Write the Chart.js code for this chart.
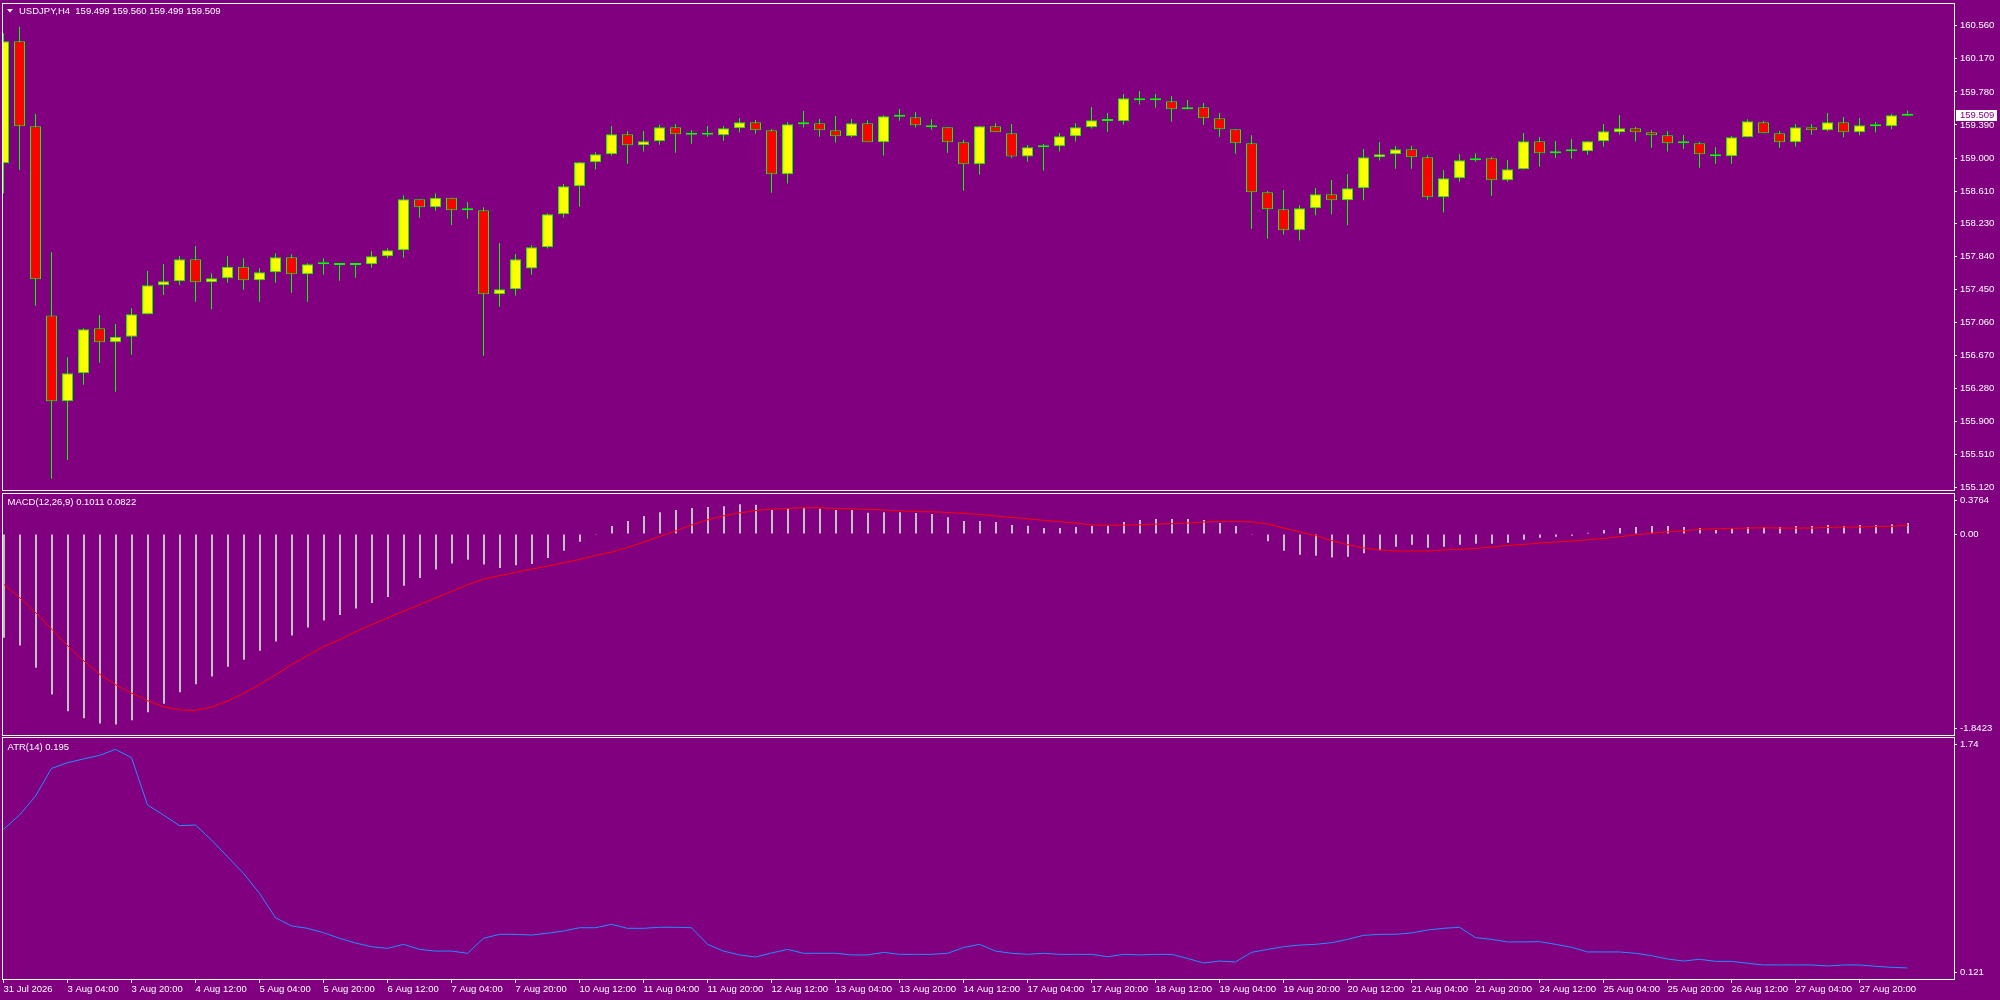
<!DOCTYPE html>
<html>
<head>
<meta charset="utf-8">
<title>USDJPY,H4</title>
<script src="https://cdn.jsdelivr.net/npm/chart.js@4.4.1/dist/chart.umd.min.js"></script>
<style>
  html, body { margin: 0; padding: 0; background: #800080; }
  body { width: 2000px; height: 1000px; position: relative; overflow: hidden; }
  canvas { position: absolute; left: 0; top: 0; }
</style>
</head>
<body>
<canvas id="price" width="2000" height="1000"></canvas>
<canvas id="macd" width="2000" height="1000"></canvas>
<canvas id="atr" width="2000" height="1000"></canvas>
<script>
const symbol = 'USDJPY,H4';

const opens = [
  158.938,160.376,159.374,157.146,156.133,156.463,156.994,156.828,156.895,157.158,
  157.500,157.547,157.807,157.535,157.583,157.720,157.559,157.653,157.830,157.630,
  157.748,157.752,157.740,157.748,157.842,157.913,158.514,158.419,158.533,158.384,
  158.384,157.394,157.453,157.697,157.948,158.337,158.667,158.950,159.044,159.280,
  159.150,159.197,159.362,159.280,159.276,159.268,159.351,159.421,159.327,158.809,
  159.398,159.410,159.327,159.256,159.410,159.186,159.492,159.480,159.386,159.362,
  159.186,158.926,159.374,159.292,159.017,159.127,159.139,159.256,159.362,159.445,
  159.433,159.681,159.685,159.669,159.575,159.598,159.469,159.339,159.174,158.596,
  158.396,158.149,158.408,158.573,158.502,158.644,159.009,159.044,159.103,159.009,
  158.537,158.761,158.974,158.997,158.738,158.867,159.197,159.056,159.080,159.080,
  159.197,159.303,159.351,159.303,159.268,159.174,159.174,159.044,159.021,159.245,
  159.421,159.292,159.186,159.362,159.327,159.421,159.303,159.386,159.374,159.499
];
const highs = [
  160.470,160.549,159.519,157.889,156.652,156.994,157.151,157.044,157.229,157.669,
  157.752,157.846,157.964,157.642,157.846,157.818,157.700,157.877,157.865,157.760,
  157.818,157.760,157.760,157.901,157.936,158.561,158.514,158.584,158.533,158.482,
  158.419,157.999,157.870,157.972,158.349,158.695,158.950,159.068,159.378,159.319,
  159.319,159.390,159.402,159.331,159.378,159.378,159.472,159.449,159.343,159.425,
  159.555,159.461,159.496,159.461,159.445,159.504,159.579,159.543,159.457,159.362,
  159.213,159.374,159.413,159.402,159.154,159.166,159.296,159.413,159.602,159.531,
  159.755,159.791,159.755,159.732,159.685,159.649,159.531,159.339,159.268,158.612,
  158.624,158.443,158.647,158.742,158.812,159.107,159.190,159.143,159.143,159.032,
  158.860,159.048,159.056,159.013,158.977,159.296,159.249,159.201,159.225,159.197,
  159.402,159.508,159.366,159.327,159.319,159.272,159.190,159.127,159.260,159.457,
  159.437,159.319,159.402,159.402,159.531,159.484,159.472,159.425,159.520,159.560
];
const lows = [
  158.585,158.859,157.260,155.221,155.442,156.329,156.589,156.247,156.683,157.158,
  157.386,157.504,157.308,157.217,157.531,157.449,157.308,157.531,157.414,157.308,
  157.627,157.555,157.590,157.708,157.818,157.826,158.297,158.380,158.211,158.286,
  156.671,157.249,157.379,157.626,157.933,158.298,158.427,158.864,159.029,158.934,
  159.076,159.158,159.064,159.170,159.252,159.205,159.300,159.288,158.592,158.699,
  159.359,159.252,159.182,159.245,159.186,159.029,159.441,159.359,159.335,159.064,
  158.616,158.805,159.303,159.005,158.958,158.852,159.076,159.194,159.347,159.311,
  159.394,159.630,159.594,159.429,159.575,159.394,159.252,159.052,158.168,158.050,
  158.098,158.027,158.325,158.337,158.208,158.502,158.970,158.875,158.875,158.510,
  158.357,158.722,158.958,158.557,158.722,158.867,158.899,159.005,158.993,159.040,
  159.135,159.276,159.194,159.123,159.076,159.111,158.887,158.934,158.934,159.245,
  159.292,159.123,159.135,159.276,159.315,159.245,159.268,159.300,159.339,159.499
];
const closes = [
  160.376,159.374,157.571,156.133,156.463,156.982,156.828,156.895,157.158,157.500,
  157.547,157.807,157.535,157.583,157.720,157.559,157.653,157.830,157.630,157.748,
  157.752,157.740,157.748,157.842,157.913,158.514,158.419,158.533,158.384,158.384,
  157.394,157.453,157.807,157.948,158.337,158.667,158.950,159.044,159.280,159.150,
  159.197,159.362,159.280,159.276,159.280,159.351,159.421,159.327,158.809,159.398,
  159.406,159.327,159.256,159.410,159.186,159.492,159.488,159.386,159.362,159.186,
  158.926,159.374,159.303,159.017,159.127,159.131,159.256,159.362,159.445,159.437,
  159.704,159.704,159.681,159.575,159.598,159.469,159.339,159.174,158.596,158.396,
  158.149,158.408,158.573,158.502,158.644,159.009,159.044,159.103,159.009,158.537,
  158.761,158.974,158.982,158.738,158.867,159.197,159.056,159.080,159.088,159.197,
  159.315,159.351,159.303,159.268,159.174,159.174,159.044,159.021,159.245,159.433,
  159.292,159.186,159.362,159.327,159.421,159.303,159.386,159.374,159.504,159.509
];

const macdMain = [
  -0.951,-1.021,-1.226,-1.470,-1.625,-1.689,-1.738,-1.747,-1.707,-1.634,
  -1.555,-1.451,-1.378,-1.305,-1.216,-1.152,-1.070,-0.985,-0.930,-0.857,
  -0.793,-0.741,-0.683,-0.631,-0.576,-0.473,-0.402,-0.326,-0.271,-0.235,
  -0.280,-0.311,-0.287,-0.274,-0.220,-0.152,-0.070,-0.006,0.073,0.119,
  0.165,0.201,0.220,0.238,0.247,0.256,0.274,0.268,0.220,0.232,
  0.241,0.232,0.220,0.220,0.195,0.201,0.201,0.192,0.183,0.155,
  0.119,0.119,0.110,0.082,0.076,0.055,0.055,0.064,0.076,0.076,
  0.110,0.128,0.137,0.137,0.137,0.128,0.101,0.073,-0.006,-0.067,
  -0.152,-0.189,-0.198,-0.216,-0.207,-0.177,-0.149,-0.116,-0.098,-0.125,
  -0.116,-0.098,-0.088,-0.088,-0.079,-0.052,-0.034,-0.024,-0.015,0.012,
  0.037,0.055,0.064,0.073,0.073,0.064,0.055,0.037,0.055,0.064,
  0.064,0.064,0.073,0.073,0.082,0.073,0.082,0.082,0.091,0.1011
];
const macdSignal = [
  -0.463,-0.585,-0.723,-0.875,-1.027,-1.165,-1.287,-1.384,-1.460,-1.530,
  -1.585,-1.613,-1.616,-1.585,-1.530,-1.460,-1.378,-1.287,-1.195,-1.110,
  -1.030,-0.966,-0.896,-0.829,-0.768,-0.707,-0.646,-0.585,-0.524,-0.463,
  -0.412,-0.381,-0.351,-0.320,-0.293,-0.262,-0.232,-0.195,-0.165,-0.122,
  -0.073,-0.021,0.030,0.085,0.131,0.168,0.195,0.216,0.229,0.235,
  0.241,0.241,0.235,0.232,0.226,0.220,0.213,0.207,0.204,0.198,
  0.189,0.180,0.165,0.152,0.140,0.125,0.113,0.101,0.082,0.082,
  0.082,0.085,0.091,0.095,0.101,0.110,0.116,0.116,0.110,0.091,
  0.055,0.018,-0.015,-0.061,-0.098,-0.128,-0.146,-0.155,-0.155,-0.155,
  -0.146,-0.140,-0.131,-0.119,-0.104,-0.095,-0.082,-0.073,-0.064,-0.052,
  -0.040,-0.024,-0.006,0.009,0.021,0.030,0.043,0.049,0.052,0.055,
  0.058,0.055,0.055,0.055,0.061,0.064,0.064,0.070,0.070,0.0822
];
const atrValues = [
  1.122,1.218,1.345,1.530,1.568,1.593,1.617,1.657,1.602,1.285,
  1.218,1.147,1.151,1.051,0.939,0.828,0.694,0.531,0.476,0.460,
  0.431,0.393,0.362,0.337,0.326,0.353,0.319,0.308,0.308,0.293,
  0.393,0.420,0.420,0.415,0.427,0.442,0.464,0.464,0.487,0.460,
  0.460,0.467,0.467,0.464,0.353,0.308,0.282,0.268,0.295,0.319,
  0.293,0.293,0.293,0.282,0.282,0.299,0.286,0.286,0.286,0.293,
  0.331,0.353,0.308,0.293,0.286,0.293,0.286,0.286,0.286,0.270,
  0.286,0.282,0.286,0.286,0.259,0.228,0.241,0.235,0.299,0.319,
  0.337,0.348,0.353,0.364,0.386,0.413,0.420,0.420,0.429,0.449,
  0.460,0.467,0.398,0.386,0.369,0.369,0.371,0.353,0.333,0.302,
  0.302,0.302,0.293,0.277,0.255,0.241,0.253,0.239,0.239,0.226,
  0.215,0.215,0.215,0.215,0.208,0.215,0.215,0.206,0.199,0.195
];

const priceTicks = [160.560,160.170,159.780,159.390,159.000,158.610,158.230,157.840,157.450,157.060,156.670,156.280,155.900,155.510,155.120];
const macdTickLabels = ['0.3764', '0.00', '-1.8423'];
const atrTickLabels = ['1.74', '0.121'];
const timeLabels = [
  '31 Jul 2026','3 Aug 04:00','3 Aug 20:00','4 Aug 12:00','5 Aug 04:00','5 Aug 20:00',
  '6 Aug 12:00','7 Aug 04:00','7 Aug 20:00','10 Aug 12:00','11 Aug 04:00','11 Aug 20:00',
  '12 Aug 12:00','13 Aug 04:00','13 Aug 20:00','14 Aug 12:00','17 Aug 04:00','17 Aug 20:00',
  '18 Aug 12:00','19 Aug 04:00','19 Aug 20:00','20 Aug 12:00','21 Aug 04:00','21 Aug 20:00',
  '24 Aug 12:00','25 Aug 04:00','25 Aug 20:00','26 Aug 12:00','27 Aug 04:00','27 Aug 20:00'
];

const BG = '#800080';
const FONT = { family: '"Liberation Sans", Arial, sans-serif', size: 9.5 };
const FONT_CSS = '9.5px "Liberation Sans", Arial, sans-serif';
const BAR_STEP = 16;      // px per candle
const AREA_W = 1952;      // plot width between the frame lines
const idx = closes.map((c, i) => i);

// white frame round each panel + its caption
const frame = {
  id: 'frame',
  afterDraw(chart, args, opts) {
    const { ctx, chartArea: a } = chart;
    ctx.save();
    ctx.strokeStyle = '#ffffff';
    ctx.lineWidth = 1;
    ctx.strokeRect(a.left + 0.5, a.top + 0.5, a.right - a.left, a.bottom - a.top);
    ctx.fillStyle = '#ffffff';
    if (opts.arrow) {
      ctx.beginPath();
      ctx.moveTo(7, 9); ctx.lineTo(13, 9); ctx.lineTo(10, 12.5);
      ctx.closePath(); ctx.fill();
    }
    ctx.font = FONT_CSS;
    ctx.textBaseline = 'middle';
    ctx.fillText(opts.text, opts.x, opts.y);
    ctx.restore();
  }
};

// white box with the last close on the price axis
const lastPrice = {
  id: 'lastPrice',
  afterDraw(chart) {
    const ctx = chart.ctx;
    const last = closes[closes.length - 1];
    const y = Math.round(chart.scales.y.getPixelForValue(last));
    ctx.save();
    ctx.fillStyle = '#ffffff';
    ctx.fillRect(chart.chartArea.right + 2, y - 5, 41, 11);
    ctx.fillStyle = BG;
    ctx.font = FONT_CSS;
    ctx.textBaseline = 'middle';
    ctx.fillText(last.toFixed(3), chart.chartArea.right + 6, y + 0.5);
    ctx.restore();
  }
};

function xAxis(show, firstPx) {
  const min = -firstPx / BAR_STEP;
  return {
    type: 'linear',
    display: show,
    offset: false,
    min: min,
    max: min + AREA_W / BAR_STEP,
    afterBuildTicks: s => { s.ticks = timeLabels.map((t, k) => ({ value: k * 4 })); },
    afterFit: s => { s.height = show ? 21 : 0; s.paddingLeft = 0; s.paddingRight = 0; },
    grid: { offset: false, drawOnChartArea: false, drawTicks: true, tickLength: 4, color: '#ffffff' },
    border: { display: false },
    ticks: {
      autoSkip: false, maxRotation: 0, minRotation: 0, align: 'start', padding: 1,
      color: '#ffffff', font: FONT,
      callback: (v, i) => timeLabels[i]
    }
  };
}

function yAxis(min, max, tickValues, labelOf) {
  return {
    position: 'right',
    min: min,
    max: max,
    afterBuildTicks: s => { s.ticks = tickValues.map(v => ({ value: v })); },
    afterFit: s => { s.width = 2000 - 2 - AREA_W; s.paddingTop = 0; s.paddingBottom = 0; },
    grid: { drawOnChartArea: false, drawTicks: true, tickLength: 3, color: '#ffffff' },
    border: { display: false },
    ticks: { padding: 3, color: '#ffffff', font: FONT, callback: labelOf }
  };
}

function baseOptions(padding) {
  return {
    responsive: false,
    animation: false,
    events: [],
    layout: { padding: padding },
    plugins: { legend: { display: false }, tooltip: { enabled: false } }
  };
}

// ---- price panel ----
function drawPrice() {
  const options = baseOptions({ left: 2, top: 3, right: 0, bottom: 510 });
  options.scales = {
    x: xAxis(false, 1.5),
    y: yAxis(155.088, 160.8275, priceTicks, v => v.toFixed(3))
  };
  const n = closes.length - 1;
  options.plugins.frame = {
    arrow: true, x: 19, y: 11,
    text: `${symbol}  ${opens[n].toFixed(3)} ${highs[n].toFixed(3)} ${lows[n].toFixed(3)} ${closes[n].toFixed(3)}`
  };

  new Chart(document.getElementById('price'), {
    type: 'bar',
    data: {
      datasets: [
        {
          label: 'wick',
          data: idx.map(i => ({ x: i, y: [lows[i], highs[i]] })),
          backgroundColor: '#00ff00',
          borderWidth: 0,
          barThickness: 1, maxBarThickness: 1,
          inflateAmount: 0, grouped: false, order: 2
        },
        {
          label: 'body',
          data: idx.map(i => ({ x: i, y: [opens[i], closes[i]] })),
          backgroundColor: idx.map(i => closes[i] >= opens[i] ? '#ffff00' : '#ff0000'),
          borderColor: '#00ff00',
          borderWidth: 1,
          borderSkipped: false,
          barThickness: 11, maxBarThickness: 11,
          minBarLength: 2,
          inflateAmount: 0, grouped: false, order: 1
        }
      ]
    },
    options: options,
    plugins: [frame, lastPrice]
  });
}

// ---- MACD panel ----
function drawMacd() {
  const top = 493, bottom = 735;
  const min = -1.8423, max = 0.3764;
  const nudge = 7 * (max - min) / (bottom - top);
  const options = baseOptions({ left: 2, top: top, right: 0, bottom: 1000 - bottom });
  options.scales = {
    x: xAxis(false, 2),
    y: yAxis(min, max, [max - nudge, 0, min + nudge], (v, i) => macdTickLabels[i])
  };
  options.plugins.frame = {
    x: 7.5, y: 502,
    text: `MACD(12,26,9) ${macdMain[macdMain.length - 1].toFixed(4)} ${macdSignal[macdSignal.length - 1].toFixed(4)}`
  };

  new Chart(document.getElementById('macd'), {
    type: 'bar',
    data: {
      datasets: [
        {
          label: 'MACD',
          data: idx.map(i => ({ x: i, y: macdMain[i] })),
          backgroundColor: '#c0c0c0',
          borderWidth: 0,
          barThickness: 2, maxBarThickness: 2,
          inflateAmount: 0, grouped: false, order: 1
        },
        {
          type: 'line',
          label: 'Signal',
          data: idx.map(i => ({ x: i, y: macdSignal[i] })),
          borderColor: '#ff0000',
          borderWidth: 1,
          pointRadius: 0,
          tension: 0,
          order: 0
        }
      ]
    },
    options: options,
    plugins: [frame]
  });
}

// ---- ATR panel ----
function drawAtr() {
  const top = 737, bottom = 979;
  const min = 0.121, max = 1.74;
  const nudge = 7 * (max - min) / (bottom - top);
  const options = baseOptions({ left: 2, top: top, right: 0, bottom: 0 });
  options.scales = {
    x: xAxis(true, 1.5),
    y: yAxis(min, max, [max - nudge, min + nudge], (v, i) => atrTickLabels[i])
  };
  options.plugins.frame = {
    x: 7.5, y: 747,
    text: `ATR(14) ${atrValues[atrValues.length - 1].toFixed(3)}`
  };

  new Chart(document.getElementById('atr'), {
    type: 'line',
    data: {
      datasets: [{
        label: 'ATR',
        data: idx.map(i => ({ x: i, y: atrValues[i] })),
        borderColor: '#1e90ff',
        borderWidth: 1,
        pointRadius: 0,
        tension: 0
      }]
    },
    options: options,
    plugins: [frame]
  });
}

document.addEventListener('DOMContentLoaded', () => {
  drawPrice();
  drawMacd();
  drawAtr();
});
</script>
</body>
</html>
